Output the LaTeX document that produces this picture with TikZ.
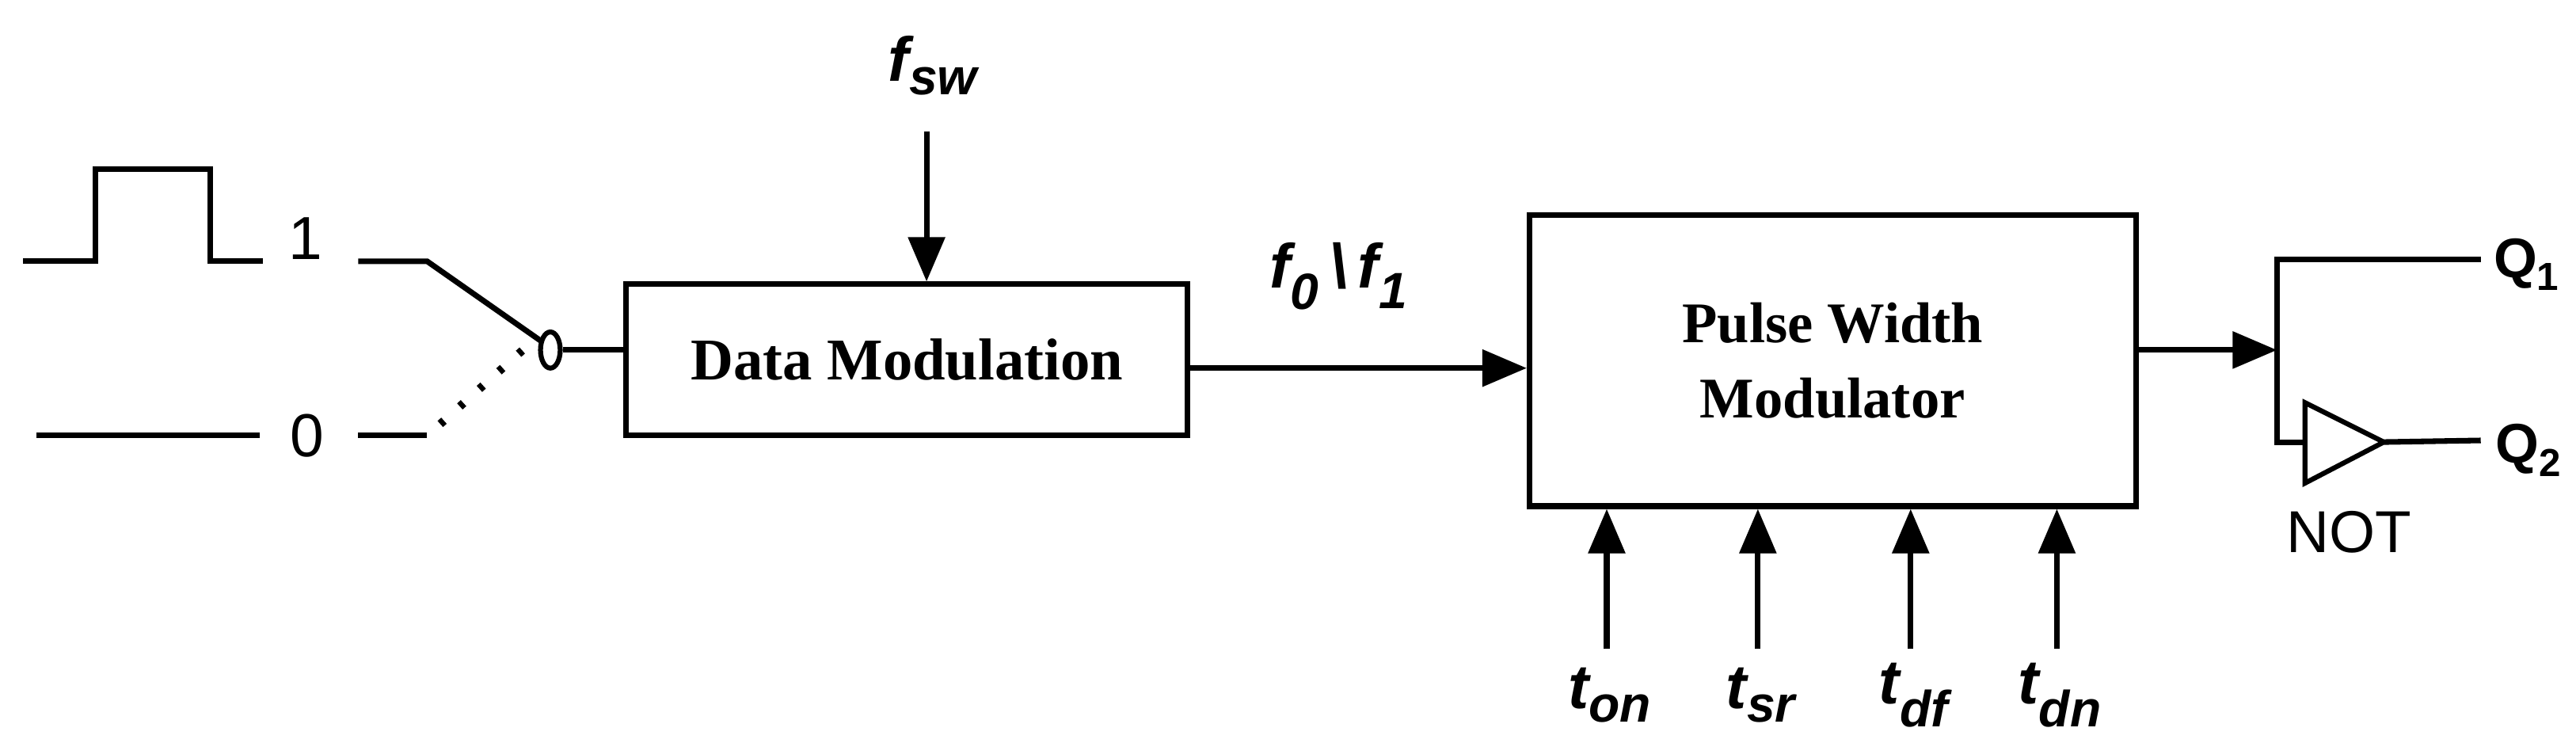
\documentclass[tikz,border=0pt]{standalone}
\usepackage{fontspec}
\setmainfont{Liberation Serif}
\setsansfont{Liberation Sans}
\usetikzlibrary{arrows.meta,shapes.geometric}
\begin{document}
\begin{tikzpicture}[x=1pt,y=-1pt,line width=3.4pt,
  arr/.style={-{Triangle[length=27pt,width=22pt]}},
  lbl/.style={font=\fontsize{38}{40}\selectfont\sffamily\bfseries\itshape,inner sep=0},
  dig/.style={font=\fontsize{37}{40}\selectfont\sffamily,inner sep=0},
  box/.style={draw,inner sep=0}]
\useasboundingbox (0,0) rectangle (1568,452);
% pulse input
\draw (14,159) -- (58,159) -- (58,103) -- (128,103) -- (128,159) -- (160,159);
\node[dig] (one) at (186,145) {1};
\draw (218,159) -- (260,159) -- (330,208);
\draw (22,265) -- (158,265);
\node[dig] (zero) at (187,265) {0};
\draw (218,265) -- (260,265);
\draw[line width=5pt,dash pattern=on 3pt off 13pt] (268,258) -- (326,206);
\node[draw,ellipse,minimum width=12pt,minimum height=22pt,inner sep=0,line width=3pt] (sw) at (335,213) {};
% data modulation
\node[box,minimum width=342pt,minimum height=92pt,font=\fontsize{36}{40}\selectfont\bfseries] (dm) at (552,219) {Data Modulation};
\draw (sw.east) -- (sw.east -| dm.west);
\node[lbl] (fsw) at (568,40) {f\textsubscript{\fontsize{31}{31}\selectfont sw}};
\coordinate (fswt) at (564,80);
\draw[arr] (fswt) -- (dm.north -| fswt);
% PWM
\node[box,minimum width=369pt,minimum height=177pt,align=center,font=\fontsize{35}{46}\selectfont\bfseries] (pwm) at (1115.5,219.5) {Pulse Width\\Modulator};
\draw[arr] (dm.east |- 0,224) -- (pwm.west |- 0,224);
\node[lbl] (f01) at (815,168) {f\textsubscript{\fontsize{31}{31}\selectfont 0}\,\textbackslash\,f\textsubscript{\fontsize{31}{31}\selectfont 1}};
% bottom inputs
\foreach \x/\s/\n in {978/on/a,1070/sr/b,1163/df/c,1252/dn/d}{
  \node[lbl] (t\n) at (\x+2,423) {t\textsubscript{\fontsize{31}{31}\selectfont \s}};
  \coordinate (c\n) at (\x,395);
  \draw[arr] (c\n) -- (c\n |- pwm.south);
}
% outputs
\coordinate (j) at (1386,213);
\draw[arr] (pwm.east |- j) -- (j);
\coordinate (ntw) at (1403,269);
\coordinate (nte) at (1451,269);
\draw[line width=3pt,line join=miter] (1403,245) -- (nte) -- (1403,294) -- cycle;
\coordinate (q1e) at (1510,158);
\draw (q1e) -- (1386,158) -- (1386,269) -- (ntw);
\coordinate (q2e) at (1510,268);
\draw (nte) -- (q2e);
\node[font=\fontsize{34}{36}\selectfont\sffamily\bfseries,inner sep=0] (q1) at (1538,161) {Q\textsubscript{1}};
\node[font=\fontsize{34}{36}\selectfont\sffamily\bfseries,inner sep=0] (q2) at (1539,274) {Q\textsubscript{2}};
\node[font=\fontsize{36}{38}\selectfont\sffamily,inner sep=0] (not) at (1430,324) {NOT};
\end{tikzpicture}
\end{document}
